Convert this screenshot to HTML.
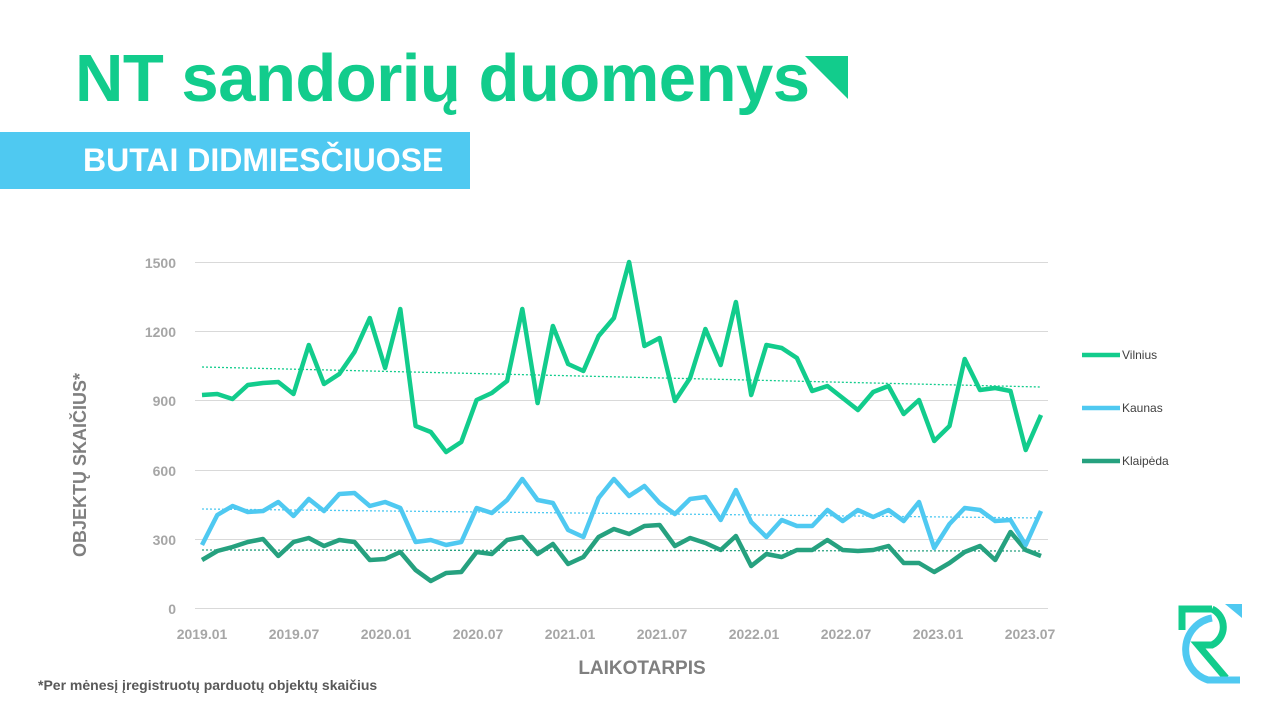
<!DOCTYPE html>
<html><head><meta charset="utf-8"><style>
body{margin:0;width:1280px;height:720px;background:#fff;overflow:hidden;font-family:"Liberation Sans",sans-serif;position:relative}
.t{position:absolute;left:75px;top:40px;font-size:67px;font-weight:bold;color:#12cc8c;letter-spacing:-0.5px}
.b{position:absolute;left:0;top:132px;width:470px;height:57px;background:#4fc9f1;color:#fff;font-size:32px;font-weight:bold;line-height:57px;padding-left:83px;box-sizing:border-box;white-space:nowrap}
</style></head><body>
<div class="t">NT sandorių duomenys</div>
<svg style="position:absolute;left:805px;top:56px" width="44" height="44"><polygon points="0,0 43,0 43,43" fill="#12cc8c"/></svg>
<div class="b">BUTAI DIDMIESČIUOSE</div>
<svg id="c" width="1280" height="720" style="position:absolute;left:0;top:0" font-family="Liberation Sans,sans-serif">
<g stroke="#d9d9d9" stroke-width="1">
<line x1="195" x2="1048" y1="262.5" y2="262.5"/><line x1="195" x2="1048" y1="331.5" y2="331.5"/><line x1="195" x2="1048" y1="400.5" y2="400.5"/><line x1="195" x2="1048" y1="470.5" y2="470.5"/><line x1="195" x2="1048" y1="539.5" y2="539.5"/><line x1="195" x2="1048" y1="608.5" y2="608.5"/></g>
<g fill="#a6a6a6" font-size="14" font-weight="bold" text-anchor="end">
<text x="176" y="268">1500</text><text x="176" y="337">1200</text><text x="176" y="406">900</text><text x="176" y="476">600</text><text x="176" y="545">300</text><text x="176" y="614">0</text></g>
<g fill="#a6a6a6" font-size="14" font-weight="bold" text-anchor="middle">
<text x="202" y="639">2019.01</text><text x="294" y="639">2019.07</text><text x="386" y="639">2020.01</text><text x="478" y="639">2020.07</text><text x="570" y="639">2021.01</text><text x="662" y="639">2021.07</text><text x="754" y="639">2022.01</text><text x="846" y="639">2022.07</text><text x="938" y="639">2023.01</text><text x="1030" y="639">2023.07</text></g>
<text x="642" y="674" fill="#7f7f7f" font-size="19" font-weight="bold" text-anchor="middle">LAIKOTARPIS</text>
<text transform="translate(86,465) rotate(-90)" fill="#7f7f7f" font-size="18" font-weight="bold" text-anchor="middle">OBJEKTŲ SKAIČIUS*</text>
<text x="38" y="690" fill="#595959" font-size="14" font-weight="bold">*Per mėnesį įregistruotų parduotų objektų skaičius</text>
<g stroke-dasharray="2,2" stroke-width="1.3">
<line x1="202" y1="367" x2="1041" y2="387" stroke="#12cc8c"/>
<line x1="202" y1="509" x2="1041" y2="518" stroke="#4fc9f1"/>
<line x1="202" y1="550" x2="1041" y2="551" stroke="#26a17f"/></g>
<g id="lines" fill="none" stroke-width="4.5" stroke-linejoin="round"></g>
<g font-size="12" fill="#404040">
<line x1="1082" x2="1120" y1="355" y2="355" stroke="#12cc8c" stroke-width="4.5"/><text x="1122" y="359">Vilnius</text>
<line x1="1082" x2="1120" y1="408" y2="408" stroke="#4fc9f1" stroke-width="4.5"/><text x="1122" y="412">Kaunas</text>
<line x1="1082" x2="1120" y1="461" y2="461" stroke="#26a17f" stroke-width="4.5"/><text x="1122" y="465">Klaipėda</text></g>
<g fill="none" stroke-width="7">
<path d="M1182,630 V609 H1212" stroke="#12cc8c"/>
<path d="M1212,609 A20,20 0 0 1 1212,645 H1198 L1226,678" stroke="#12cc8c"/>
<path d="M1212,618 A32,32 0 0 0 1208,680 H1240" stroke="#4fc9f1"/>
</g>
<polygon points="1225,604 1242,604 1242,618" fill="#4fc9f1"/>
</svg>
<script>
var V=[395,394,399,385,383,382,394,345,384,374,352,318,368,309,426,432,452,442,400,393,381,309,403,326,364,371,336,318,262,346,338,401,378,329,365,302,395,345,348,358,391,386,398,410,392,386,414,400,441,426,359,390,388,391,450,415];
var K=[545,515,506,512,511,502,516,499,511,494,493,506,502,508,542,540,545,542,508,513,500,479,500,503,530,537,498,479,496,486,503,514,499,497,520,490,522,537,520,526,526,510,521,510,517,510,521,502,548,524,508,510,521,520,545,511];
var L=[560,551,547,542,539,556,542,538,546,540,542,560,559,552,570,581,573,572,552,554,540,537,554,544,564,557,537,529,534,526,525,546,538,543,550,536,566,554,557,550,550,540,550,551,550,546,563,563,572,563,552,546,560,532,550,556];
var g=document.getElementById('lines'),s=(1041-202)/55;
[[L,'#26a17f'],[K,'#4fc9f1'],[V,'#12cc8c']].forEach(function(a){
var p=a[0].map(function(y,i){return (202+i*s).toFixed(1)+','+y}).join(' ');
var e=document.createElementNS('http://www.w3.org/2000/svg','polyline');
e.setAttribute('points',p);e.setAttribute('stroke',a[1]);g.appendChild(e);});
</script>
</body></html>
